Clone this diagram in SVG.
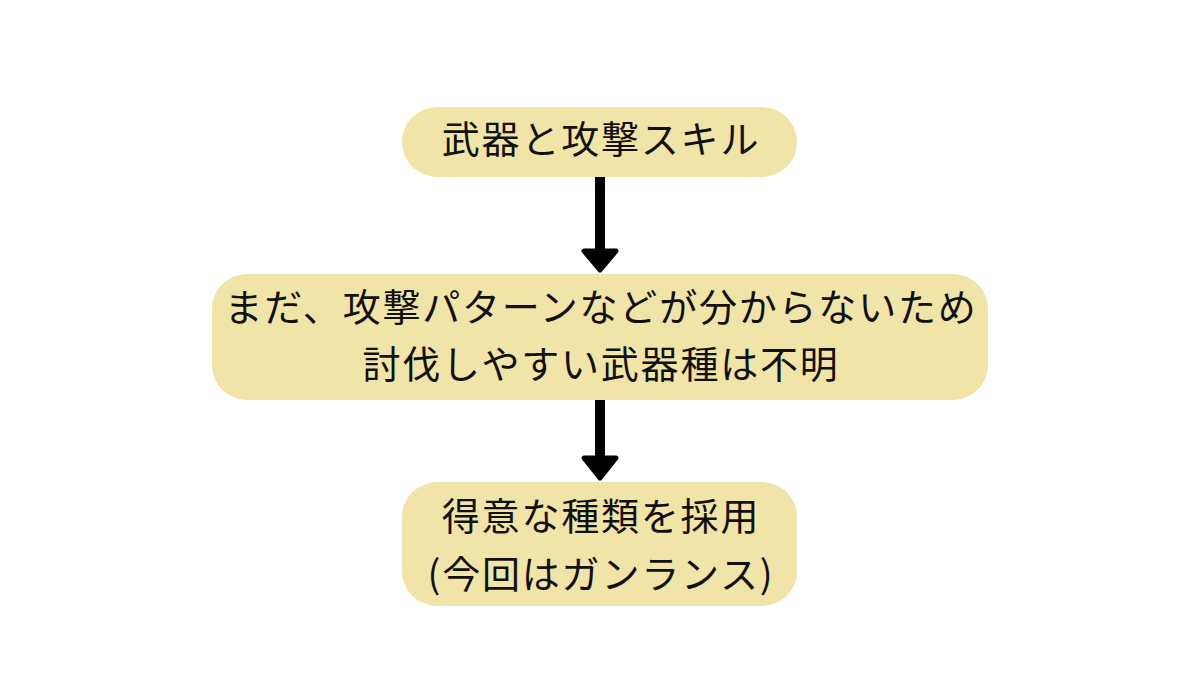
<svg xmlns="http://www.w3.org/2000/svg" width="1200" height="675" viewBox="0 0 1200 675">
<style>
.box{fill:#F1E4A8;}
.t{font-family:"Noto Sans CJK JP","Noto Sans CJK SC",sans-serif;font-size:38px;fill:#111;text-anchor:middle;letter-spacing:1.8px;}
.shaft{stroke:#000;stroke-width:10;fill:none;}
.head{fill:#000;stroke:#000;stroke-width:5;stroke-linejoin:round;}
</style>
<rect width="1200" height="675" fill="#fff"/>
<g id="connectors">
<line class="shaft" x1="600" y1="177" x2="600" y2="252"/>
<polygon class="head" points="584,251 616,251 600,270"/>
<line class="shaft" x1="600" y1="400" x2="600" y2="459"/>
<polygon class="head" points="584,458 616,458 600,478"/>
</g>
<g id="node1">
<rect class="box" x="402" y="107" width="395" height="70" rx="35"/>
<text class="t" x="601" y="153">武器と攻撃スキル</text>
</g>
<g id="node2">
<rect class="box" x="212" y="274" width="776" height="126" rx="35"/>
<text class="t" x="601" y="321">まだ、攻撃パターンなどが分からないため</text>
<text class="t" x="601" y="378">討伐しやすい武器種は不明</text>
</g>
<g id="node3">
<rect class="box" x="402" y="482" width="395" height="124" rx="35"/>
<text class="t" x="601" y="530">得意な種類を採用</text>
<text class="t" x="601" y="588">(今回はガンランス)</text>
</g>
</svg>
